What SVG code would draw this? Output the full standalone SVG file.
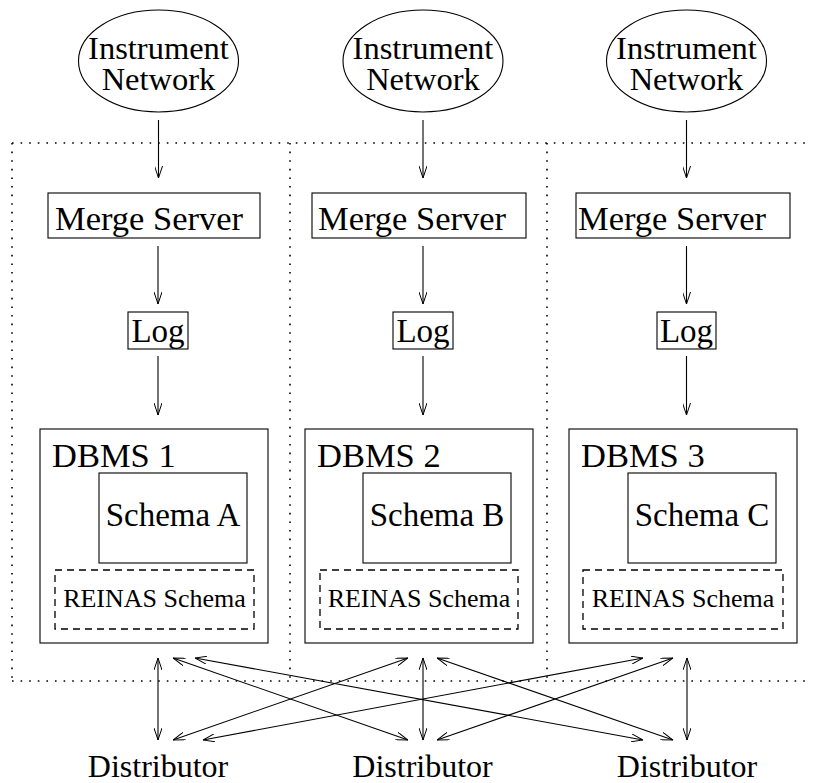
<svg xmlns="http://www.w3.org/2000/svg" width="814" height="783" viewBox="0 0 814 783">
<style>
text{font-family:"Liberation Serif","Times New Roman",serif;fill:#000}
.big{font-size:33px}
.lg{font-size:34.5px}
.inst{font-size:32.5px}
.dist{font-size:32px}
.mid{font-size:26px}
.c{text-anchor:middle}
.box{fill:none;stroke:#000;stroke-width:1.1}
.dash{fill:none;stroke:#000;stroke-width:1.3;stroke-dasharray:7 5}
.dot{fill:none;stroke:#000;stroke-width:1.6;stroke-dasharray:1.6 7}
.ar{fill:none;stroke:#000;stroke-width:1.1}
</style>
<defs>
<marker id="h" viewBox="0 0 12 8" refX="12" refY="4" markerWidth="12" markerHeight="8" markerUnits="userSpaceOnUse" orient="auto-start-reverse">
<path d="M0,0 L12,4 L0,8" fill="none" stroke="#000" stroke-width="1"/>
</marker>
</defs>
<g id="frame">
<path class="dot" d="M12,143 H810 M12,681 H810 M12,143 V681 M290,143 V681 M547,143 V681"/>
</g>
<g id="net1"><ellipse class="box" cx="158.5" cy="61" rx="80" ry="51"/><text class="inst c" x="158.5" y="59">Instrument</text><text class="inst c" x="158.5" y="90">Network</text></g>
<g id="net2"><ellipse class="box" cx="423" cy="61" rx="80" ry="51"/><text class="inst c" x="423" y="59">Instrument</text><text class="inst c" x="423" y="90">Network</text></g>
<g id="net3"><ellipse class="box" cx="686.5" cy="61" rx="80" ry="51"/><text class="inst c" x="686.5" y="59">Instrument</text><text class="inst c" x="686.5" y="90">Network</text></g>
<g id="merge1"><rect class="box" x="48" y="193" width="212" height="45"/><text class="lg" x="55" y="230">Merge Server</text></g>
<g id="merge2"><rect class="box" x="312" y="193" width="214" height="45"/><text class="lg" x="318" y="230">Merge Server</text></g>
<g id="merge3"><rect class="box" x="576" y="193" width="214" height="45"/><text class="lg" x="578" y="230">Merge Server</text></g>
<g id="log1"><rect class="box" x="128" y="312" width="60" height="37"/><text class="big c" x="158" y="342">Log</text></g>
<g id="log2"><rect class="box" x="393" y="312" width="60" height="37"/><text class="big c" x="423" y="342">Log</text></g>
<g id="log3"><rect class="box" x="657" y="312" width="59" height="37"/><text class="big c" x="686.5" y="342">Log</text></g>
<g id="dbms1"><rect class="box" x="40" y="429" width="228" height="214"/><text class="lg" x="52" y="467">DBMS 1</text>
<rect class="box" x="99" y="473" width="148" height="90"/><text class="big c" x="173" y="526">Schema A</text>
<rect class="dash" x="55" y="570" width="199" height="59"/><text class="mid c" x="154.5" y="607">REINAS Schema</text></g>
<g id="dbms2"><rect class="box" x="305" y="429" width="228" height="214"/><text class="lg" x="317" y="467">DBMS 2</text>
<rect class="box" x="363" y="473" width="148" height="90"/><text class="big c" x="437" y="526">Schema B</text>
<rect class="dash" x="320" y="570" width="198" height="59"/><text class="mid c" x="419" y="607">REINAS Schema</text></g>
<g id="dbms3"><rect class="box" x="569" y="429" width="228" height="214"/><text class="lg" x="581" y="467">DBMS 3</text>
<rect class="box" x="628" y="473" width="148" height="90"/><text class="big c" x="702" y="526">Schema C</text>
<rect class="dash" x="583" y="570" width="200" height="59"/><text class="mid c" x="683" y="607">REINAS Schema</text></g>
<g id="dist1"><text class="dist c" x="158" y="777">Distributor</text></g>
<g id="dist2"><text class="dist c" x="422.5" y="777">Distributor</text></g>
<g id="dist3"><text class="dist c" x="687" y="777">Distributor</text></g>
<g id="connectors">
<path class="ar" marker-end="url(#h)" d="M158.5,120 V178"/>
<path class="ar" marker-end="url(#h)" d="M423,120 V178"/>
<path class="ar" marker-end="url(#h)" d="M686.5,120 V178"/>
<path class="ar" marker-end="url(#h)" d="M158,246 V304"/>
<path class="ar" marker-end="url(#h)" d="M423,246 V304"/>
<path class="ar" marker-end="url(#h)" d="M686.5,246 V304"/>
<path class="ar" marker-end="url(#h)" d="M158,356 V415"/>
<path class="ar" marker-end="url(#h)" d="M423,356 V415"/>
<path class="ar" marker-end="url(#h)" d="M686.5,356 V415"/>
<path class="ar" marker-start="url(#h)" marker-end="url(#h)" d="M158,658 V740"/>
<path class="ar" marker-start="url(#h)" marker-end="url(#h)" d="M423,658 V740"/>
<path class="ar" marker-start="url(#h)" marker-end="url(#h)" d="M687,658 V740"/>
<path class="ar" marker-start="url(#h)" marker-end="url(#h)" d="M173,658 L408,740"/>
<path class="ar" marker-start="url(#h)" marker-end="url(#h)" d="M195,658 L643,740"/>
<path class="ar" marker-start="url(#h)" marker-end="url(#h)" d="M173,740 L408,658"/>
<path class="ar" marker-start="url(#h)" marker-end="url(#h)" d="M203,740 L643,658"/>
<path class="ar" marker-start="url(#h)" marker-end="url(#h)" d="M437,658 L673,740"/>
<path class="ar" marker-start="url(#h)" marker-end="url(#h)" d="M437,740 L673,658"/>
</g>
</svg>
